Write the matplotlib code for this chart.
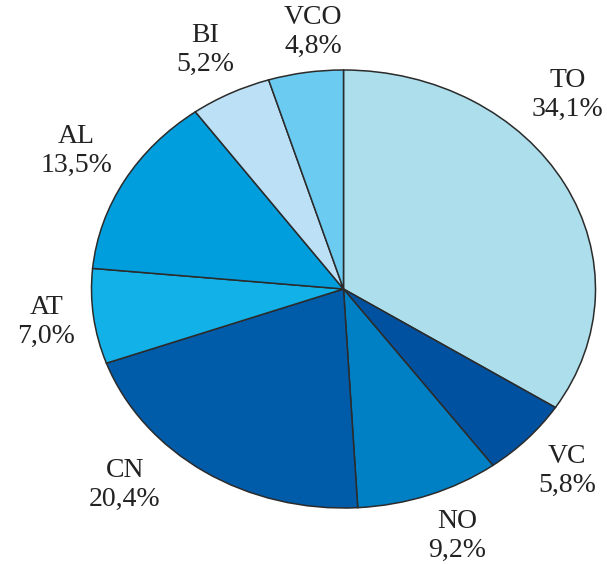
import matplotlib.pyplot as plt

# share of each area, going clockwise from 12 o'clock
areas = ["TO", "VC", "NO", "CN", "AT", "AL", "BI", "VCO"]
shares = [34.1, 5.8, 9.2, 20.4, 7.0, 13.5, 5.2, 4.8]
colors = ["#acdeec", "#0052a0", "#0080c4", "#005ba9", "#12b1e8",
          "#009edc", "#bce0f5", "#6ccbf1"]

# label centres in data units (the pie is squashed to an ellipse)
label_pos = [(0.89, 0.886), (0.887, -0.831), (0.45, -1.128), (-0.867, -0.895),
             (-1.18, -0.15), (-1.06, 0.63), (-0.55, 1.091), (-0.121, 1.174)]

W, H = 607, 564
fig = plt.figure(figsize=(W / 100, H / 100), dpi=100)
cx, cy, rx, ry = 343.5, 289, 252, 219
ax = fig.add_axes([(cx - rx) / W, (H - cy - ry) / H, 2 * rx / W, 2 * ry / H])

ax.pie(shares, colors=colors, startangle=90, counterclock=False,
       wedgeprops=dict(edgecolor="#2b2b2b", linewidth=1.1))
ax.set_aspect("auto")
ax.set_xlim(-1, 1)
ax.set_ylim(-1, 1)
ax.axis("off")

for name, val, (x, y) in zip(areas, shares, label_pos):
    txt = f"{name}\n{val:.1f}%".replace(".", ",")
    ax.text(x, y, txt, ha="center", va="center", fontsize=20,
            family="Liberation Serif", color="#222222", linespacing=1.2,
            clip_on=False)

fig.savefig("out.png", dpi=100)
